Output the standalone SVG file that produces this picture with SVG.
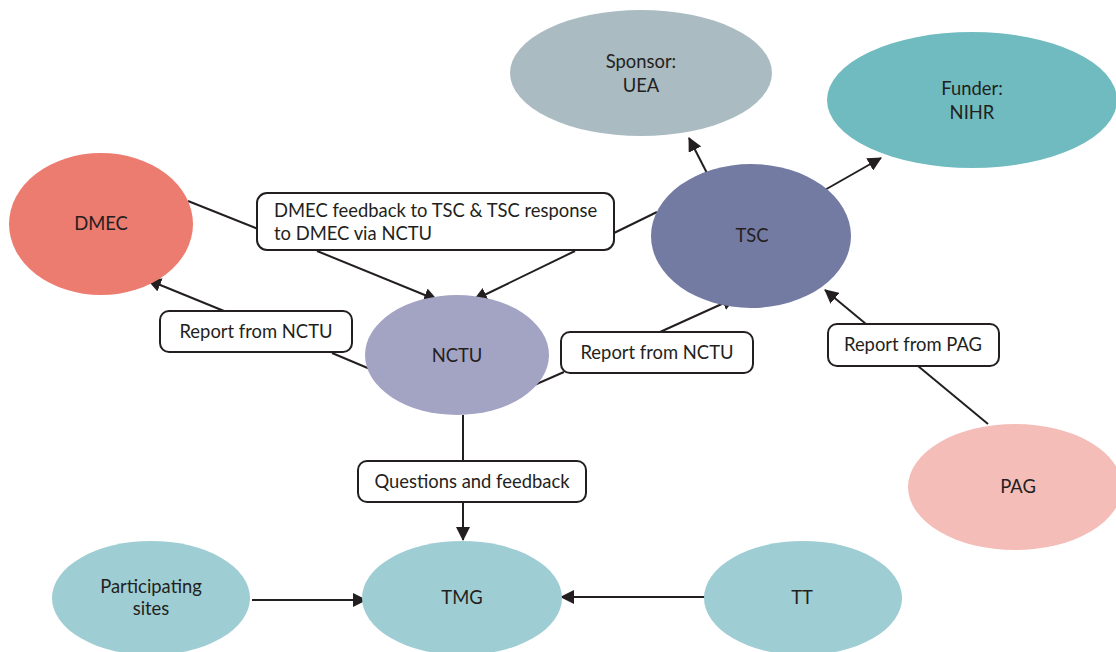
<svg xmlns="http://www.w3.org/2000/svg" width="1116" height="652" viewBox="0 0 1116 652">
<defs>
<marker id="arr" markerUnits="userSpaceOnUse" markerWidth="14" markerHeight="14" viewBox="0 0 14 14" refX="13" refY="7" orient="auto">
<path d="M0,0 L14,7 L0,14 Z" fill="#231F20"/>
</marker>
</defs>
<style>
text{font-family:Lato,"Open Sans","Liberation Sans",sans-serif;font-size:18.4px;fill:#231F20}
.c{text-anchor:middle}
.ln{stroke:#231F20;stroke-width:2;fill:none}
.a{marker-end:url(#arr)}
.box{fill:#fff;stroke:#231F20;stroke-width:2}
</style>
<rect width="1116" height="652" fill="#fff"/>
<g id="connectors">
<line class="ln" x1="188" y1="201" x2="258" y2="229"/>
<line class="ln a" x1="317" y1="251" x2="437" y2="300"/>
<line class="ln" x1="657" y1="212" x2="614" y2="233"/>
<line class="ln a" x1="575" y1="251" x2="474" y2="300"/>
<line class="ln" x1="370" y1="369" x2="332" y2="353"/>
<line class="ln a" x1="224" y1="311" x2="148" y2="280"/>
<line class="ln" x1="532" y1="386" x2="564" y2="372"/>
<line class="ln a" x1="660" y1="332" x2="735" y2="298"/>
<line class="ln" x1="988" y1="424" x2="918" y2="366"/>
<line class="ln a" x1="866" y1="324" x2="825" y2="290"/>
<line class="ln a" x1="710" y1="179" x2="689" y2="138"/>
<line class="ln a" x1="823" y1="191" x2="881" y2="158"/>
<line class="ln" x1="463" y1="415" x2="463" y2="461"/>
<line class="ln a" x1="463" y1="502" x2="463" y2="540"/>
<line class="ln a" x1="252" y1="600" x2="366" y2="600"/>
<line class="ln a" x1="707" y1="597" x2="561" y2="597"/>
</g>
<g id="sponsor"><ellipse cx="641" cy="73" rx="131" ry="63" fill="#ABBBC2"/><text class="c" x="641" y="68">Sponsor:</text><text class="c" x="641" y="92">UEA</text></g>
<g id="funder"><ellipse cx="972" cy="100" rx="145" ry="68" fill="#6FBBBF"/><text class="c" x="972" y="95">Funder:</text><text class="c" x="972" y="119">NIHR</text></g>
<g id="dmec"><ellipse cx="101" cy="224" rx="92" ry="71" fill="#EC7B70"/><text class="c" x="101" y="230">DMEC</text></g>
<g id="tsc"><ellipse cx="751" cy="236" rx="100" ry="72" fill="#737BA3"/><text class="c" x="752" y="242">TSC</text></g>
<g id="nctu"><ellipse cx="457" cy="355" rx="92" ry="60" fill="#A3A3C4"/><text class="c" x="457" y="362">NCTU</text></g>
<g id="pag"><ellipse cx="1015" cy="487" rx="107" ry="63" fill="#F5BDB8"/><text class="c" x="1018" y="493">PAG</text></g>
<g id="tmg"><ellipse cx="462" cy="598" rx="100" ry="57" fill="#9ECDD3"/><text class="c" x="462" y="604">TMG</text></g>
<g id="sites"><ellipse cx="151" cy="598" rx="99" ry="57" fill="#9ECDD3"/><text class="c" x="151" y="593">Participating</text><text class="c" x="151" y="615">sites</text></g>
<g id="tt"><ellipse cx="803" cy="598" rx="99" ry="57" fill="#9ECDD3"/><text class="c" x="802" y="604">TT</text></g>
<g id="lbl-dmec-feedback"><rect class="box" x="257" y="193" width="357" height="57" rx="10"/><text x="274" y="217">DMEC feedback to TSC &amp; TSC response</text><text x="274" y="240">to DMEC via NCTU</text></g>
<g id="lbl-report-nctu-left"><rect class="box" x="160" y="311" width="192" height="41" rx="9"/><text class="c" x="256" y="338">Report from NCTU</text></g>
<g id="lbl-report-nctu-right"><rect class="box" x="561" y="332" width="192" height="41" rx="9"/><text class="c" x="657" y="359">Report from NCTU</text></g>
<g id="lbl-report-pag"><rect class="box" x="828" y="324" width="171" height="42" rx="9"/><text class="c" x="913" y="351">Report from PAG</text></g>
<g id="lbl-questions"><rect class="box" x="358" y="461" width="228" height="41" rx="9"/><text class="c" x="472" y="488">Questions and feedback</text></g>
</svg>
